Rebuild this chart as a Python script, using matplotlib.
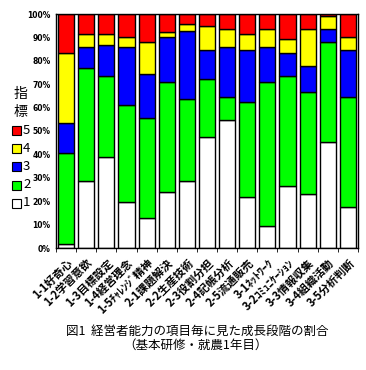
import matplotlib
matplotlib.use("Agg")
import matplotlib.pyplot as plt
import numpy as np
from matplotlib.patches import Rectangle

plt.rcParams['font.family'] = ['Noto Sans CJK JP', 'DejaVu Sans']

categories = ["1-1好奇心", "1-2学習意欲", "1-3目標設定", "1-4経営理念", "1-5ﾁｬﾚﾝｼﾞ精神",
              "2-1課題解決", "2-2生産技術", "2-3役割分担", "2-4記帳分析", "2-5流通販売",
              "3-1ﾈｯﾄﾜｰｸ", "3-2ｺﾐｭﾆｹｰｼｮﾝ", "3-3情報収集", "3-4組織活動", "3-5分析判断"]

# cumulative tops (%)
top1 = [1.5, 28.6, 38.7, 19.7, 13.0, 24.0, 28.6, 47.6, 54.6, 21.8, 9.6, 26.5, 23.1, 45.5, 17.6]
top2 = [40.8, 76.9, 73.7, 61.3, 55.5, 71.1, 63.5, 72.4, 64.6, 62.4, 71.1, 73.7, 66.8, 88.0, 64.6]
top3 = [53.4, 85.9, 86.8, 85.9, 74.5, 90.1, 92.8, 84.6, 85.9, 84.6, 85.9, 83.4, 77.9, 93.5, 84.6]
top4 = [83.4, 91.4, 91.4, 90.0, 88.0, 92.5, 95.6, 94.8, 93.5, 91.4, 93.5, 89.3, 93.5, 99.2, 90.0]

level1 = np.array(top1)
level2 = np.array(top2) - np.array(top1)
level3 = np.array(top3) - np.array(top2)
level4 = np.array(top4) - np.array(top3)
level5 = 100 - np.array(top4)

series = [("1", level1, "#ffffff"), ("2", level2, "#00ff00"), ("3", level3, "#0000ff"),
          ("4", level4, "#ffff00"), ("5", level5, "#ff0000")]

W, H = 366, 370
fig = plt.figure(figsize=(W / 100, H / 100), dpi=100)
ax = fig.add_axes([56 / W, 1 - 248 / H, 302 / W, 234 / H])

x = np.arange(len(categories))
bottom = np.zeros(len(categories))
for name, vals, col in series:
    ax.bar(x, vals, bottom=bottom, width=0.8, color=col, edgecolor="black", linewidth=1.0)
    bottom += vals

ax.set_xlim(-0.5, len(categories) - 0.5)
ax.set_ylim(0, 100)
ax.set_yticks(np.arange(0, 101, 10))
ax.set_yticklabels([f"{v}%" for v in range(0, 101, 10)], fontsize=5.5, family='DejaVu Sans',
                   fontweight='bold')
ax.tick_params(axis='y', length=0, pad=4)
ax.set_xticks(x)
ax.set_xticklabels(categories, rotation=45, ha='right', rotation_mode='anchor', fontsize=8,
                   fontweight='bold')
ax.tick_params(axis='x', length=0, pad=6)
ax.set_xticks(np.arange(-0.5, len(categories), 1), minor=True)
ax.tick_params(axis='x', which='minor', length=3, direction='out')
for s in ax.spines.values():
    s.set_linewidth(1.0)

# legend
fig.text(20 / W, 1 - 94 / H, "指", fontsize=10, ha='center', va='center')
fig.text(20 / W, 1 - 112 / H, "標", fontsize=10, ha='center', va='center')
ys = [130, 148, 166, 185, 203]
for (name, vals, col), yy in zip(series[::-1], ys):
    fig.add_artist(Rectangle((12 / W, 1 - (yy + 5) / H), 9 / W, 9 / H, facecolor=col,
                             edgecolor='black', linewidth=0.8, transform=fig.transFigure))
    fig.text(23 / W, 1 - yy / H, name, fontsize=9.5, ha='left', va='center')

fig.text(197 / W, 1 - 331 / H, "図1  経営者能力の項目毎に見た成長段階の割合", fontsize=9, ha='center', va='center')
fig.text(195 / W, 1 - 345 / H, "（基本研修・就農1年目）", fontsize=9, ha='center', va='center')

fig.savefig("out.png", dpi=100)
